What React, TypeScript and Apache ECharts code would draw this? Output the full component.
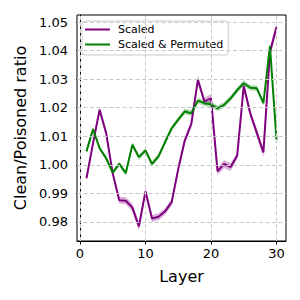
import React, { useEffect, useRef } from "react";
import * as echarts from "echarts";

const layers = [1, 2, 3, 4, 5, 6, 7, 8, 9, 10, 11, 12, 13, 14, 15, 16, 17, 18, 19, 20, 21, 22, 23, 24, 25, 26, 27, 28, 29, 30];
const scaled = [0.9953, 1.0076, 1.0193, 1.0111, 0.997, 0.9876, 0.9874, 0.985, 0.9784, 0.9907, 0.9812, 0.9818, 0.9837, 0.9869, 0.9985, 1.0085, 1.0143, 1.0298, 1.0222, 1.0233, 0.9977, 1.0003, 0.9992, 1.0032, 1.0276, 1.018, 1.0112, 1.0043, 1.0395, 1.0482];
const scaledStd = [0.001, 0.001, 0.001, 0.001, 0.001, 0.0012, 0.0012, 0.0014, 0.0014, 0.0012, 0.0012, 0.0012, 0.0012, 0.0012, 0.0012, 0.0012, 0.0012, 0.0014, 0.0014, 0.0014, 0.0014, 0.0014, 0.0014, 0.0012, 0.0012, 0.0014, 0.0014, 0.0016, 0.0018, 0.0018];
const permuted = [1.0047, 1.0125, 1.0058, 1.0023, 0.9973, 1.0003, 0.9971, 1.007, 1.0027, 1.005, 1.0003, 1.003, 1.008, 1.0128, 1.0158, 1.0187, 1.0181, 1.0225, 1.0216, 1.0212, 1.0198, 1.021, 1.0233, 1.0262, 1.0286, 1.027, 1.0268, 1.0216, 1.0416, 1.0088];
const permutedStd = [0.0009, 0.0009, 0.0009, 0.0009, 0.0009, 0.0009, 0.0009, 0.0009, 0.0009, 0.0009, 0.0009, 0.0009, 0.0009, 0.0009, 0.0009, 0.001, 0.001, 0.001, 0.001, 0.001, 0.001, 0.001, 0.001, 0.001, 0.001, 0.001, 0.001, 0.001, 0.0012, 0.0012];
const xTicks = [0, 10, 20, 30];
const yTicks = [0.98, 0.99, 1.0, 1.01, 1.02, 1.03, 1.04, 1.05];

const PURPLE = "#800080";
const GREEN = "#008000";
const FONT = "DejaVu Sans";

function bandSeries(vals: number[], std: number[], name: string, color: string) {
  const data = layers.map((l, i) => [l, vals[i] - std[i], vals[i] + std[i]]);
  return {
    type: "custom",
    name,
    data,
    encode: { x: 0, y: [1, 2] },
    clip: true,
    silent: true,
    z: 2,
    renderItem: (params: any, api: any) => {
      if (params.dataIndex !== 0) return null;
      const upper: number[][] = [];
      const lower: number[][] = [];
      for (let i = 0; i < data.length; i++) {
        upper.push(api.coord([data[i][0], data[i][2]]));
        lower.push(api.coord([data[i][0], data[i][1]]));
      }
      const pts = upper.concat(lower.reverse());
      return {
        type: "polygon",
        shape: { points: pts },
        style: { fill: color, opacity: 0.3 },
      };
    },
  };
}

export default function App() {
  const ref = useRef<HTMLDivElement>(null);
  useEffect(() => {
    if (!ref.current) return;
    const chart = echarts.init(ref.current, null, { renderer: "svg" });
    const gridStyle = { color: "#c8c8c8", width: 1, type: [4, 2.5] };
    chart.setOption({
      animation: false,
      backgroundColor: "#fff",
      textStyle: { fontFamily: FONT },
      grid: {
        left: 77,
        right: 14,
        top: 15,
        bottom: 59,
        show: true,
        borderColor: "#000",
        borderWidth: 1,
        backgroundColor: "transparent",
      },
      legend: {
        data: ["Scaled", "Scaled & Permuted"],
        orient: "vertical",
        left: 82,
        top: 21,
        padding: [2, 5, 4, 3],
        itemGap: 2,
        icon: "rect",
        itemWidth: 25,
        itemHeight: 2,
        borderColor: "#cccccc",
        borderWidth: 1,
        borderRadius: 3,
        backgroundColor: "rgba(255,255,255,0.8)",
        textStyle: { fontFamily: FONT, fontSize: 11, lineHeight: 13, color: "#000", padding: [0, 0, 0, 3] },
      },
      xAxis: {
        type: "value",
        min: -0.45,
        max: 31.45,
        name: "Layer",
        nameLocation: "middle",
        nameGap: 27,
        nameTextStyle: { fontFamily: FONT, fontSize: 16, color: "#000" },
        axisLine: { show: true, lineStyle: { color: "#000", width: 1 } },
        axisTick: { show: true, length: 3.5, customValues: xTicks, lineStyle: { color: "#000" } },
        axisLabel: { customValues: xTicks, fontFamily: FONT, fontSize: 13, color: "#000", margin: 6 },
        splitLine: { show: false },
      },
      yAxis: {
        type: "value",
        min: 0.9733,
        max: 1.0525,
        name: "Clean/Poisoned ratio",
        nameLocation: "middle",
        nameGap: 46,
        nameTextStyle: { fontFamily: FONT, fontSize: 16, color: "#000" },
        axisLine: { show: true, lineStyle: { color: "#000", width: 1 } },
        axisTick: { show: true, length: 3.5, customValues: yTicks, lineStyle: { color: "#000" } },
        axisLabel: {
          customValues: yTicks,
          fontFamily: FONT,
          fontSize: 13,
          color: "#000",
          margin: 9,
          formatter: (v: number) => v.toFixed(2),
        },
        splitLine: { show: false },
      },
      series: [
        {
          type: "line",
          name: "grid",
          data: [[layers[0], scaled[0]]],
          symbol: "none",
          lineStyle: { opacity: 0 },
          z: 1,
          silent: true,
          markLine: {
            silent: true,
            symbol: "none",
            label: { show: false },
            lineStyle: gridStyle,
            data: [
              ...xTicks.map((v) => ({ xAxis: v })),
              ...yTicks.map((v) => ({ yAxis: v })),
            ],
          },
        },
        bandSeries(scaled, scaledStd, "scBand", PURPLE),
        bandSeries(permuted, permutedStd, "pmBand", GREEN),
        {
          type: "line",
          name: "Scaled",
          data: layers.map((l, i) => [l, scaled[i]]),
          symbol: "none",
          showSymbol: false,
          color: PURPLE,
          itemStyle: { color: PURPLE },
          lineStyle: { color: PURPLE, width: 2 },
          z: 3,
        },
        {
          type: "line",
          name: "Scaled & Permuted",
          data: layers.map((l, i) => [l, permuted[i]]),
          symbol: "none",
          showSymbol: false,
          color: GREEN,
          itemStyle: { color: GREEN },
          lineStyle: { color: GREEN, width: 2 },
          z: 3,
        },
      ],
    });
    return () => chart.dispose();
  }, []);
  return (
    <div
      ref={ref}
      style={{ position: "absolute", left: 0, top: 0, width: 300, height: 300 }}
    />
  );
}
